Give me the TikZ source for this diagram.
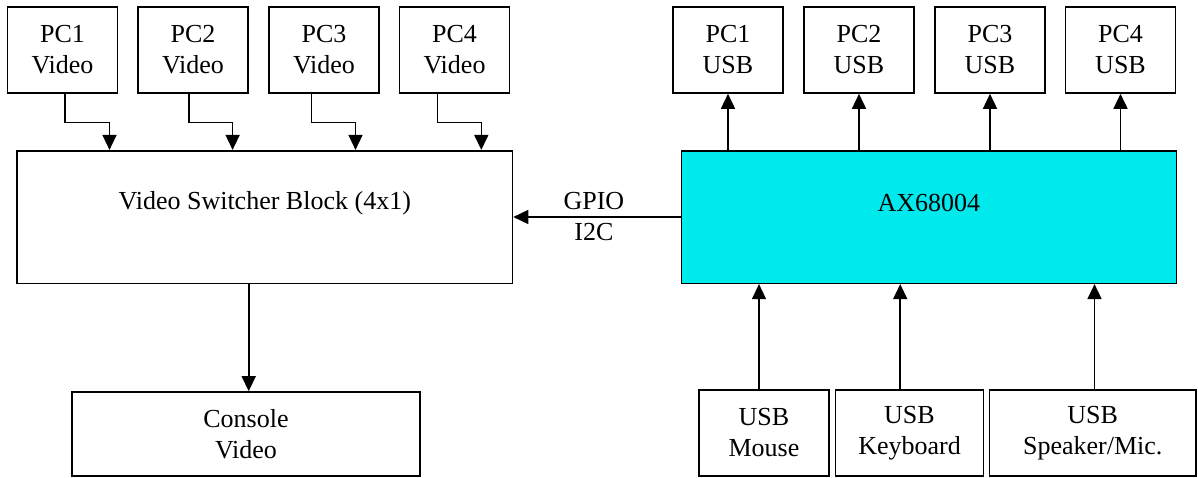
\documentclass[tikz,border=0pt]{standalone}
\usepackage{fontspec}
\setmainfont{Liberation Serif}
\usetikzlibrary{arrows.meta}
\definecolor{axcyan}{RGB}{0,234,238}
\begin{document}
\begin{tikzpicture}[x=1pt,y=-1pt,>={Triangle[length=15pt,width=14pt]},line width=1.6pt,
	box/.style={draw,inner sep=0pt,align=center,font=\fontsize{26}{31}\selectfont},
	lbl/.style={align=center,font=\fontsize{26}{31}\selectfont}]
	\useasboundingbox (0,0) rectangle (1198,477);
	% video side
	\node[box,minimum width=495.5pt,minimum height=132.6pt,
		label={[lbl,yshift=14pt]center:Video Switcher Block (4x1)}] (vsw) at (264.75,217) {};
	\foreach \i/\x/\a/\b in {1/62.5/2.5/-155.25, 2/193/-4/-32.15, 3/324/-12.4/90.75, 4/454.5/-17/216.55}{
		\node[box,minimum width=110pt,minimum height=86pt] (vid\i) at (\x,50) {PC\i\\Video};
		\draw[->] ([xshift=\a pt]vid\i.south) -- ++(0,28.7) -| ([xshift=\b pt]vsw.north);
	}
	\node[box,minimum width=348pt,minimum height=84pt] (console) at (246,434) {Console\\Video};
	\draw[->] ([xshift=2.7pt]console.north |- vsw.south) -- ([xshift=2.7pt]console.north);
	% usb side
	\node[box,fill=axcyan,minimum width=495.2pt,minimum height=132.6pt,
		label={[lbl,yshift=14pt]center:AX68004}] (ax) at (928.9,217) {};
	\foreach \i/\x in {1/728, 2/859, 3/990, 4/1120.5}{
		\node[box,minimum width=110pt,minimum height=86pt] (usb\i) at (\x,50) {PC\i\\USB};
		\draw[->] (ax.north -| usb\i) -- (usb\i.south);
	}
	\draw[->] (ax.west) -- (vsw.east) node[midway,lbl,xshift=-3pt]{GPIO\\I2C};
	\node[box,minimum width=130.4pt,minimum height=86pt] (mouse) at (764,433) {USB\\Mouse};
	\node[box,minimum width=148.2pt,minimum height=86pt] (kbd) at (909.5,433) {USB\\Keyboard};
	\node[box,minimum width=206.6pt,minimum height=86pt] (spk) at (1092.7,433) {USB\\Speaker/Mic.};
	\draw[->] ([xshift=-5pt]mouse.north) -- ([xshift=-5pt]mouse.north |- ax.south);
	\draw[->] ([xshift=-9.3pt]kbd.north) -- ([xshift=-9.3pt]kbd.north |- ax.south);
	\draw[->] ([xshift=1.8pt]spk.north) -- ([xshift=1.8pt]spk.north |- ax.south);
\end{tikzpicture}
\end{document}
